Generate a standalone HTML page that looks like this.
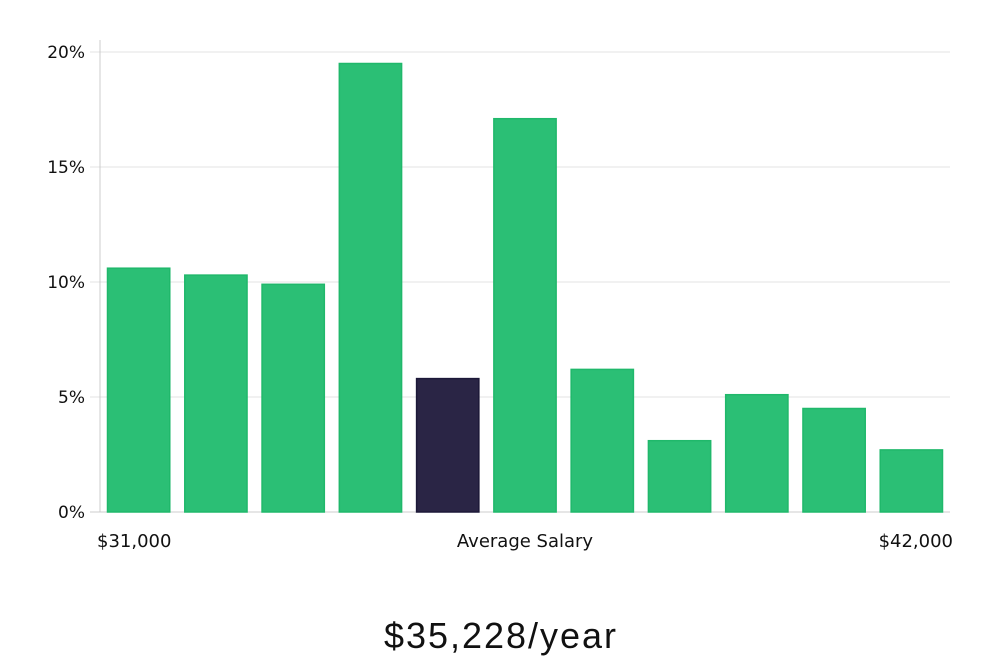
<!DOCTYPE html>
<html><head><meta charset="utf-8"><style>
body{margin:0;background:#fff;width:1000px;height:660px;overflow:hidden}
text{font-family:"DejaVu Sans","Liberation Sans",sans-serif}
</style></head><body>
<svg id="chart" width="1000" height="660" xmlns="http://www.w3.org/2000/svg">
<g id="grid"></g><g id="bars"></g><g id="labels"></g>
<text x="500" y="648" text-anchor="middle" font-size="36" fill="#111" style="font-family:'Liberation Sans',sans-serif;font-weight:300" textLength="232">$35,228/year</text>
</svg>
<script>
const categories=["b1","b2","b3","b4","avg","b6","b7","b8","b9","b10","b11"];
const values=[10.6,10.3,9.9,19.5,5.8,17.1,6.2,3.1,5.1,4.5,2.7];
const highlight=[false,false,false,false,true,false,false,false,false,false,false];
const yTicks=[0,5,10,15,20];
const yTickLabels=["0%","5%","10%","15%","20%"];
const xLabels=["$31,000","Average Salary","$42,000"];
const NS="http://www.w3.org/2000/svg";
const x0=100,x1=950,yBase=512,yTop=52,yMax=20;
const y=v=>yBase-(v/yMax)*(yBase-yTop);
const slot=(x1-x0)/categories.length;
const xs=i=>x0+i*slot;
function mk(t,a,p){const e=document.createElementNS(NS,t);for(const k in a)e.setAttribute(k,a[k]);p.appendChild(e);return e;}
const grid=document.getElementById('grid'),bars=document.getElementById('bars'),labels=document.getElementById('labels');
yTicks.forEach((t,i)=>{
 const l=mk('line',{x1:90,x2:x1,y1:y(t),y2:y(t),stroke:t===0?'#ccc':'#e3e3e3','stroke-width':1},grid);
 
 
 const tx=mk('text',{x:85,y:y(t)+6,'text-anchor':'end','font-size':17,fill:'#111'},labels);
 tx.textContent=yTickLabels[i];
 
 
});
const ax=mk('line',{x1:x0,x2:x0,y1:40,y2:yBase,stroke:'#ccc','stroke-width':1},grid);


values.forEach((v,i)=>{
 const hl=highlight[i];
 const r=mk('rect',{x:xs(i)+7.5,y:y(v),width:slot-15,height:yBase-y(v),fill:hl?'#2a2545':'#2bbf75',stroke:hl?'#1c1838':'#20b86b','stroke-width':1.5},bars);
 
 
});
const xl=[[97,'start'],[525,'middle'],[953,'end']];
xLabels.forEach((s,i)=>{
 const t=mk('text',{x:xl[i][0],y:547,'text-anchor':xl[i][1],'font-size':18,fill:'#111'},labels);
 t.textContent=s;
 
 
});
</script>
</body></html>
